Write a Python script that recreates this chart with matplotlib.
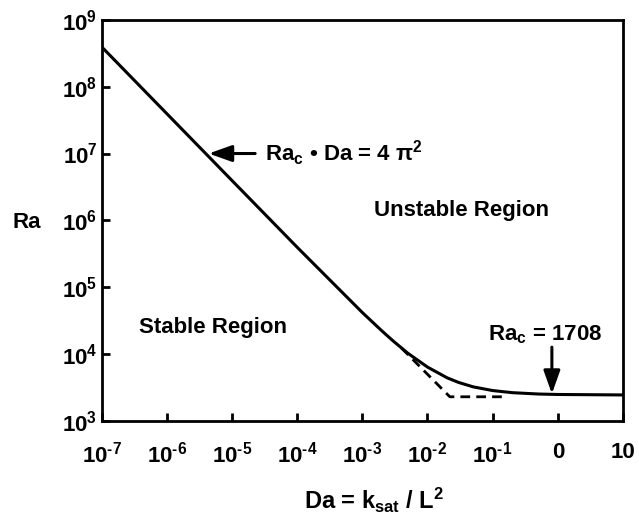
import matplotlib

matplotlib.use("Agg")
import matplotlib.pyplot as plt
from matplotlib.ticker import FixedLocator, FixedFormatter, NullLocator

plt.rcParams["font.family"] = ["Liberation Sans", "DejaVu Sans"]
plt.rcParams["font.weight"] = "bold"
plt.rcParams["mathtext.fontset"] = "custom"
plt.rcParams["mathtext.rm"] = "Liberation Sans:bold"
plt.rcParams["mathtext.it"] = "Liberation Sans:bold"
plt.rcParams["mathtext.bf"] = "Liberation Sans:bold"
plt.rcParams["mathtext.default"] = "rm"

# stability boundary
da_curve = [1e-7, 1e-6, 1e-5, 1e-4, 1e-3, 2e-3, 3e-3, 5e-3, 1e-2, 2e-2, 3e-2, 5e-2,
            1e-1, 2e-1, 5e-1, 1.0, 10.0]
ra_curve = [3.95e8, 3.95e7, 3.95e6, 3.97e5, 4.19e4, 2.22e4, 1.56e4, 1.03e4, 6.4e3,
            4.42e3, 3.77e3, 3.24e3, 2.85e3, 2.65e3, 2.53e3, 2.49e3, 2.45e3]

# dashed sharp-corner approximation
da_dash = [4.0e-3, 2.2e-2, 1.5e-1]
ra_dash = [1.23e4, 2.3e3, 2.3e3]

x_ticks = [1e-7, 1e-6, 1e-5, 1e-4, 1e-3, 1e-2, 1e-1, 1.0, 10.0]
x_labels = [r"$10^{‐7}$", r"$10^{‐6}$", r"$10^{‐5}$", r"$10^{‐4}$", r"$10^{‐3}$",
            r"$10^{‐2}$", r"$10^{‐1}$", "0", "10"]
y_ticks = [1e3, 1e4, 1e5, 1e6, 1e7, 1e8, 1e9]
y_labels = [r"$10^{3}$", r"$10^{4}$", r"$10^{5}$", r"$10^{6}$", r"$10^{7}$", r"$10^{8}$", r"$10^{9}$"]

fig = plt.figure(figsize=(6.39, 5.21), dpi=100)
ax = fig.add_axes([0.159, 0.192, 0.816, 0.770])
ax.set_xscale("log")
ax.set_yscale("log")
ax.set_xlim(1e-7, 10)
ax.set_ylim(1e3, 1e9)

ax.plot(da_curve, ra_curve, color="black", lw=2.2, solid_capstyle="butt")
ax.plot(da_dash, ra_dash, color="black", lw=2.0, ls=(0, (3.5, 2.2)))

ax.xaxis.set_major_locator(FixedLocator(x_ticks))
ax.xaxis.set_major_formatter(FixedFormatter(x_labels))
ax.xaxis.set_minor_locator(NullLocator())
ax.yaxis.set_major_locator(FixedLocator(y_ticks))
ax.yaxis.set_major_formatter(FixedFormatter(y_labels))
ax.yaxis.set_minor_locator(NullLocator())
ax.tick_params(direction="in", length=6, width=2, labelsize=16)
ax.tick_params(axis="x", pad=15)
ax.tick_params(axis="y", pad=3)
for s in ax.spines.values():
    s.set_linewidth(2)

fig.text(0.585, 0.04, r"Da = k$_{sat}$ / L$^{2}$", fontsize=17, ha="center", va="center")
fig.text(0.02, 0.572, "Ra", fontsize=16, ha="left", va="center")

head = "-|>,head_length=0.7,head_width=0.25"
ax.annotate(r"Ra$_{c}$ • Da = 4 $\pi^{2}$", xy=(4.4e-6, 1.0e7),
            xytext=(3.2e-5, 1.0e7), fontsize=16, va="center", ha="left",
            arrowprops=dict(arrowstyle=head, color="black", lw=2.2,
                            mutation_scale=20, shrinkA=5, shrinkB=0))
ax.annotate("", xy=(0.81, 2.55e3), xytext=(0.81, 1.27e4),
            arrowprops=dict(arrowstyle=head, color="black", lw=2.2,
                            mutation_scale=20, shrinkA=0, shrinkB=0))
ax.text(0.084, 1.62e4, r"Ra$_{c}$ = 1708", fontsize=16, ha="left", va="baseline")
ax.text(1.53e-3, 1.41e6, "Unstable Region", fontsize=16, ha="left", va="center")
ax.text(3.7e-7, 2.46e4, "Stable Region", fontsize=16, ha="left", va="center")

fig.savefig("out.png", dpi=100)
